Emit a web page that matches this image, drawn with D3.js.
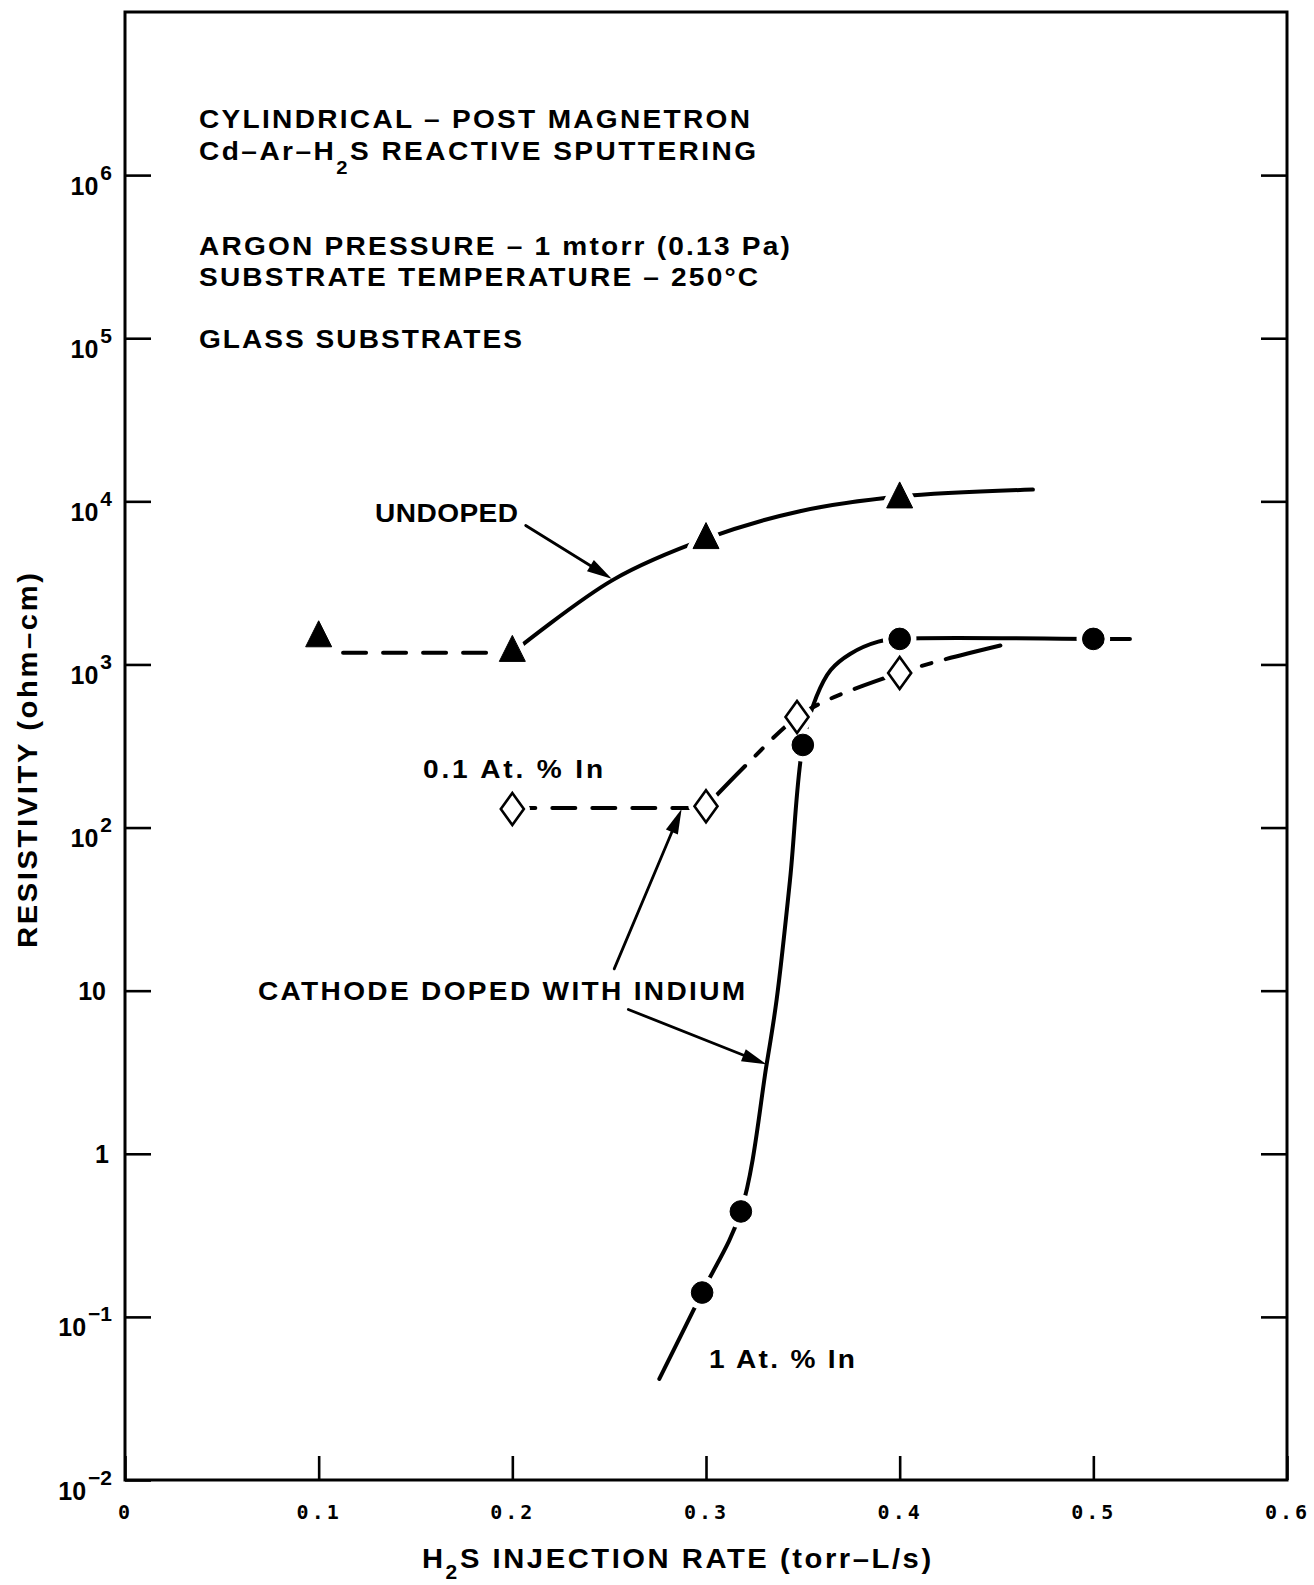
<!DOCTYPE html>
<html>
<head>
<meta charset="utf-8">
<script src="https://cdn.jsdelivr.net/npm/d3@7"></script>
<style>
  html, body { margin: 0; padding: 0; background: #fff; }
  svg { display: block; }
</style>
</head>
<body>
<svg id="chart" width="1314" height="1585"></svg>
<script>
// ---- Measured films: H2S injection rate (torr-L/s) and resistivity (ohm-cm) ----
const undopedRate = [0.1, 0.2, 0.3, 0.4];
const undopedRho  = [1450, 1180, 5800, 10300];

const in01Rate = [0.2, 0.3, 0.347, 0.4];
const in01Rho  = [130, 135, 476, 887];

const in1Rate = [0.298, 0.318, 0.35, 0.4, 0.5];
const in1Rho  = [0.141, 0.443, 321, 1434, 1434];

// ---- Hand-drawn trend curves through the data ----
const undopedFlatRate = [0.1126, 0.2];
const undopedFlatRho  = [1180, 1180];
const undopedRiseRate = [0.2, 0.252, 0.3, 0.3485, 0.4, 0.4688];
const undopedRiseRho  = [1180, 3300, 5900, 8700, 10700, 11800];

const in01FlatRate = [0.2, 0.3];
const in01FlatRho  = [132, 132];
const in01RiseRate = [0.3, 0.3212, 0.347, 0.364, 0.4, 0.4208, 0.4554];
const in01RiseRho  = [135, 245, 476, 614, 887, 1055, 1336];

const in1CurveRate = [0.2759, 0.298, 0.318, 0.3313, 0.3365, 0.3434, 0.35, 0.357, 0.3644, 0.3744, 0.389, 0.4, 0.5, 0.5189];
const in1CurveRho  = [0.0417, 0.141, 0.443, 3.53, 8.85, 48, 321, 634, 925, 1160, 1380, 1434, 1434, 1434];

// ---- Label arrows (tail -> head) ----
const arrowFromRate = [0.2069, 0.2526, 0.2599];
const arrowFromRho  = [7110, 13.6, 7.67];
const arrowToRate   = [0.2513, 0.2874, 0.3313];
const arrowToRho    = [3350, 130, 3.53];

// ---- Axis ticks ----
const xTicks = [0, 0.1, 0.2, 0.3, 0.4, 0.5, 0.6];
const xTickLabels = ["0", "0.1", "0.2", "0.3", "0.4", "0.5", "0.6"];
const yTicks = [1e-2, 1e-1, 1, 10, 1e2, 1e3, 1e4, 1e5, 1e6];
const yTickBase = ["10", "10", "1", "10", "10", "10", "10", "10", "10"];
const yTickExp  = ["\u22122", "\u22121", "", "", "2", "3", "4", "5", "6"];

// ---- Scales ----
const x = d3.scaleLinear().domain([0, 0.6]).range([125, 1287]);
const y = d3.scaleLog().domain([1e-2, 1e7]).range([1480, 12]);

const ink = "#000";
const sans = "'Liberation Sans', Arial, sans-serif";
const svg = d3.select("#chart");
svg.append("rect").attr("width", 1314).attr("height", 1585).attr("fill", "#fff");

// Text helper: parts are plain strings or {sub: "2"}.
// Glyphs are widened a little and letter spacing stretches the line to a given width.
function addText(parent, parts, px, py, target, size, subDy) {
  const sx = 1.08;
  const g = parent.append("g").attr("transform", `translate(${px},${py}) scale(${sx},1)`);
  const t = g.append("text")
    .attr("font-family", sans).attr("font-weight", "bold")
    .attr("font-size", size).attr("fill", ink);
  const sd = subDy || 13;
  let shifted = false;
  parts.forEach(p => {
    if (typeof p === "string") {
      t.append("tspan").attr("dy", shifted ? -sd : null).text(p);
      shifted = false;
    } else {
      t.append("tspan").attr("dy", sd).attr("font-size", size * 0.72).text(p.sub);
      shifted = true;
    }
  });
  if (target) {
    const w0 = t.node().getBBox().width;
    const n = t.node().getNumberOfChars();
    t.attr("letter-spacing", ((target / sx - w0) / (n - 1)).toFixed(2));
  }
  return t;
}

// ---- Frame ----
svg.append("rect")
  .attr("x", x(0)).attr("y", y(1e7))
  .attr("width", x(0.6) - x(0)).attr("height", y(1e-2) - y(1e7))
  .attr("fill", "none").attr("stroke", ink).attr("stroke-width", 3);

// ---- Bottom axis ----
const gx = svg.append("g")
  .attr("transform", `translate(0,${y(1e-2)})`)
  .call(d3.axisBottom(x).tickValues(xTicks).tickSize(-24).tickSizeOuter(0)
        .tickFormat((d, i) => xTickLabels[i]));
gx.select(".domain").remove();
gx.selectAll(".tick line").attr("stroke", ink).attr("stroke-width", 2.6);
gx.selectAll(".tick text")
  .attr("y", 39).attr("dy", null)
  .attr("font-family", "'DejaVu Sans Mono', monospace").attr("font-weight", "bold")
  .attr("font-size", 20).attr("letter-spacing", 3).attr("fill", ink);

// ---- Left axis with power-of-ten labels ----
const gy = svg.append("g")
  .attr("transform", `translate(${x(0)},0)`)
  .call(d3.axisLeft(y).tickValues(yTicks).tickSize(-26).tickSizeOuter(0).tickFormat(""));
gy.select(".domain").remove();
gy.selectAll(".tick line").attr("stroke", ink).attr("stroke-width", 2.6);
gy.selectAll(".tick text").remove();
gy.selectAll(".tick").each(function (d, i) {
  const exp = yTickExp[i];
  const t = d3.select(this).append("text")
    .attr("text-anchor", "end")
    .attr("font-family", sans).attr("font-weight", "bold")
    .attr("font-size", 25).attr("fill", ink);
  if (exp) {
    t.attr("x", -13).attr("y", 19);
    t.append("tspan").text(yTickBase[i]);
    t.append("tspan").attr("dx", 2).attr("dy", -15).attr("font-size", 21).text(exp);
  } else {
    t.attr("x", yTickBase[i] === "1" ? -16 : -19).attr("y", 9).text(yTickBase[i]);
  }
});

// ---- Right axis ticks ----
const gr = svg.append("g")
  .attr("transform", `translate(${x(0.6)},0)`)
  .call(d3.axisRight(y).tickValues(yTicks.slice(1)).tickSize(-26).tickSizeOuter(0).tickFormat(""));
gr.select(".domain").remove();
gr.selectAll(".tick line").attr("stroke", ink).attr("stroke-width", 2.6);

// ---- Axis titles ----
addText(svg, ["H", { sub: "2" }, "S INJECTION RATE (torr\u2013L/s)"], 422, 1568, 509, 27, 11);
const yTitle = svg.append("g").attr("transform", "translate(37,948) rotate(-90)");
addText(yTitle, ["RESISTIVITY (ohm\u2013cm)"], 0, 0, 375, 27);

// ---- Conditions block ----
addText(svg, ["CYLINDRICAL \u2013 POST MAGNETRON"], 199, 128, 551, 26);
addText(svg, ["Cd\u2013Ar\u2013H", { sub: "2" }, "S REACTIVE SPUTTERING"], 199, 160, 557, 26, 14);
addText(svg, ["ARGON PRESSURE \u2013 1 mtorr (0.13 Pa)"], 199, 255, 591, 26);
addText(svg, ["SUBSTRATE TEMPERATURE \u2013 250\u00B0C"], 199, 286, 559, 26);
addText(svg, ["GLASS SUBSTRATES"], 199, 348, 323, 26);

// ---- Trend curves ----
const straight = d3.line().x(d => x(d[0])).y(d => y(d[1]));
const smooth = d3.line().x(d => x(d[0])).y(d => y(d[1])).curve(d3.curveCatmullRom.alpha(0.5));

function drawCurve(gen, rates, rhos, dash) {
  svg.append("path")
    .datum(d3.zip(rates, rhos))
    .attr("d", gen)
    .attr("fill", "none").attr("stroke", ink).attr("stroke-width", 4)
    .attr("stroke-linecap", "round").attr("stroke-linejoin", "round")
    .attr("stroke-dasharray", dash);
}
drawCurve(straight, undopedFlatRate, undopedFlatRho, "23,17");
drawCurve(smooth, undopedRiseRate, undopedRiseRho, null);
drawCurve(straight, in01FlatRate, in01FlatRho, "23,17");
drawCurve(smooth, in01RiseRate, in01RiseRho, "56,15,10,15");
drawCurve(smooth, in1CurveRate, in1CurveRho, null);

// ---- Marker shapes ----
const tallTriangle = {
  draw(ctx, size) {
    const s = Math.sqrt(size);
    ctx.moveTo(0, -s * 2 / 3);
    ctx.lineTo(s / 2, s / 3);
    ctx.lineTo(-s / 2, s / 3);
    ctx.closePath();
  }
};
const tallDiamond = {
  draw(ctx, size) {
    const s = Math.sqrt(size);
    ctx.moveTo(0, -s / 2);
    ctx.lineTo(s * 0.36, 0);
    ctx.lineTo(0, s / 2);
    ctx.lineTo(-s * 0.36, 0);
    ctx.closePath();
  }
};
const sets = [
  { rates: undopedRate, rhos: undopedRho, sym: d3.symbol().type(tallTriangle).size(26 * 26), fill: ink, stroke: ink, sw: 1 },
  { rates: in01Rate, rhos: in01Rho, sym: d3.symbol().type(tallDiamond).size(32 * 32), fill: "#fff", stroke: ink, sw: 2.6 },
  { rates: in1Rate, rhos: in1Rho, sym: d3.symbol().type(d3.symbolCircle).size(Math.PI * 10.8 * 10.8), fill: ink, stroke: ink, sw: 1 }
];

// White halos leave a small gap where the curves meet the markers
sets.forEach(s => {
  svg.append("g").selectAll("path")
    .data(d3.zip(s.rates, s.rhos)).join("path")
    .attr("transform", d => `translate(${x(d[0])},${y(d[1])})`)
    .attr("d", s.sym)
    .attr("fill", "#fff").attr("stroke", "#fff").attr("stroke-width", 12)
    .attr("stroke-linejoin", "round");
});
sets.forEach(s => {
  svg.append("g").selectAll("path")
    .data(d3.zip(s.rates, s.rhos)).join("path")
    .attr("transform", d => `translate(${x(d[0])},${y(d[1])})`)
    .attr("d", s.sym)
    .attr("fill", s.fill).attr("stroke", s.stroke).attr("stroke-width", s.sw)
    .attr("stroke-linejoin", "miter");
});

// ---- Series labels and arrows ----
addText(svg, ["UNDOPED"], 375, 522, 143, 26);
addText(svg, ["0.1 At. % In"], 423, 778, 180, 26);
addText(svg, ["CATHODE DOPED WITH INDIUM"], 258, 1000, 487, 26);
addText(svg, ["1 At. % In"], 709, 1368, 146, 26);

arrowFromRate.forEach((r, i) => {
  const x0 = x(r), y0 = y(arrowFromRho[i]);
  const x1 = x(arrowToRate[i]), y1 = y(arrowToRho[i]);
  const L = Math.hypot(x1 - x0, y1 - y0), ux = (x1 - x0) / L, uy = (y1 - y0) / L;
  const hl = 25, hw = 6.5;
  const bx = x1 - ux * hl, by = y1 - uy * hl;
  svg.append("line")
    .attr("x1", x0).attr("y1", y0).attr("x2", bx + ux * 3).attr("y2", by + uy * 3)
    .attr("stroke", ink).attr("stroke-width", 2.8).attr("stroke-linecap", "round");
  svg.append("path")
    .attr("d", `M${x1},${y1}L${bx - uy * hw},${by + ux * hw}L${bx + uy * hw},${by - ux * hw}Z`)
    .attr("fill", ink);
});
</script>
</body>
</html>
